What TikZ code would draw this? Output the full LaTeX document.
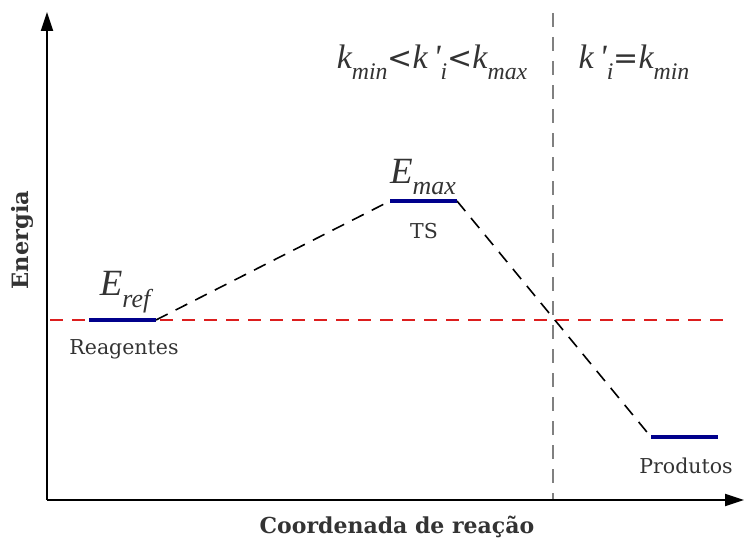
\documentclass[tikz,border=0pt]{standalone}
\usepackage{fontspec}
\setmainfont{DejaVu Serif}
\newfontfamily\lserif{Liberation Serif}
\newfontfamily\dsans{DejaVu Sans}
\usetikzlibrary{arrows.meta}
\definecolor{barblue}{RGB}{0,0,140}
\definecolor{refred}{RGB}{220,30,30}
\newcommand{\mysub}[1]{\raisebox{-0.32em}{\fontsize{0.7em}{1em}\selectfont\itshape #1}}
\newcommand{\myrel}[1]{{\upshape\dsans\fontsize{30}{34}\selectfont #1}}
\begin{document}
\begin{tikzpicture}[x=1pt,y=-1pt,
  lvl/.style={draw=barblue,line width=4pt},
  path/.style={draw=black,line width=1.6pt,dash pattern=on 13pt off 9pt},
  axis/.style={draw=black,line width=2pt,-{Triangle[length=19pt,width=12pt]}},
  lab/.style={font=\fontsize{20.5}{24}\selectfont,text=black!80,inner sep=0pt},
  elab/.style={font=\lserif\fontsize{37}{40}\selectfont,text=black!80,inner sep=0pt},
  klab/.style={font=\lserif\fontsize{34}{38}\selectfont,text=black!80,inner sep=0pt}]
\useasboundingbox (0,0) rectangle (744,543);
% coordinates
\coordinate (o) at (47,500);
\coordinate (ytop) at (47,12);
\coordinate (xend) at (744,500);
\coordinate (r1) at (89,320); \coordinate (r2) at (156,320);
\coordinate (t1) at (390,201); \coordinate (t2) at (457,201);
\coordinate (p1) at (651,437); \coordinate (p2) at (718,437);
\coordinate (h1) at (50,320); \coordinate (h2) at (724,320);
\coordinate (v1) at (553,13); \coordinate (v2) at (553,500);
% reference lines
\draw[refred,line width=1.5pt,dash pattern=on 13pt off 9pt] (h1) -- (h2);
\draw[gray,line width=1.3pt,dash pattern=on 14pt off 10pt] (v1) -- (v2);
% pathway
\draw[path] (r2) -- (t1);
\draw[path] (t2) -- (p1);
% levels
\draw[lvl] (r1) -- (r2);
\draw[lvl] (t1) -- (t2);
\draw[lvl] (p1) -- (p2);
% axes
\draw[axis] (o) -- (ytop);
\draw[axis] (o) -- (xend);
% labels
\node[elab] (eref) at (125,292) {\itshape E\mysub{ref}};
\node[lab] (reag) at (124,349) {Reagentes};
\node[elab] (emax) at (423,177) {\itshape E\mysub{max}};
\node[lab] (ts) at (424,231) {TS};
\node[lab] (prod) at (686,466) {Produtos};
\node[klab] (k1) at (432,62) {\itshape k\mysub{min}\myrel{<}k\,'\mysub{i}\myrel{<}k\mysub{max}};
\node[klab] (k2) at (634,62) {\itshape k\,'\mysub{i}\myrel{=}k\mysub{min}};
\node[lab,font=\bfseries\fontsize{22.5}{26}\selectfont,rotate=90] (en) at (22,240) {Energia};
\node[lab,font=\bfseries\fontsize{22}{26}\selectfont] (cr) at (397,527) {Coordenada de reação};
\end{tikzpicture}
\end{document}
